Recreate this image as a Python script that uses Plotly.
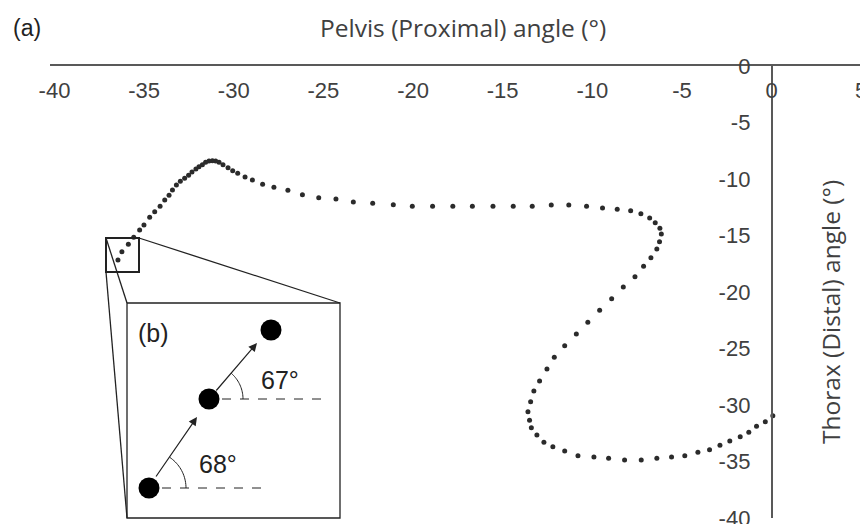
import math
import plotly.graph_objects as go

# ---- data ----
pelvis = [0.07, -0.35, -0.84, -1.27, -1.75, -2.33, -2.88, -3.46, -4.11, -4.84,
          -5.58, -6.40, -7.27, -8.20, -9.09, -9.91, -10.80, -11.54, -12.20, -12.70,
          -13.09, -13.40, -13.50, -13.59, -13.44, -13.26, -12.94, -12.53, -12.12, -11.54,
          -10.89, -10.25, -9.59, -8.92, -8.27, -7.62, -7.14, -6.73, -6.40, -6.25,
          -6.15, -6.23, -6.49, -6.80, -7.29, -7.86, -8.61, -9.43, -10.32, -11.31,
          -12.29, -13.35, -14.41, -15.54, -16.69, -17.78, -18.91, -20.04, -21.10, -22.25,
          -23.33, -24.30, -25.26, -26.17, -26.98, -27.76, -28.39, -28.96, -29.37, -29.78,
          -30.06, -30.32, -30.60, -30.82, -31.01, -31.19, -31.38, -31.57, -31.75, -31.94,
          -32.11, -32.33, -32.52, -32.74, -32.98, -33.20, -33.42, -33.61, -33.85, -34.11,
          -34.41, -34.69, -35.01, -35.25, -35.58, -35.88, -36.24, -36.46]
thorax = [-30.95, -31.48, -31.88, -32.42, -32.81, -33.19, -33.57, -33.96, -34.19, -34.49,
          -34.60, -34.72, -34.87, -34.87, -34.72, -34.60, -34.49, -34.07, -33.69, -33.30,
          -32.65, -32.01, -31.35, -30.59, -29.71, -28.76, -27.88, -26.81, -25.78, -24.75,
          -23.72, -22.68, -21.62, -20.59, -19.56, -18.65, -17.73, -16.96, -16.19, -15.55,
          -14.87, -14.36, -13.87, -13.45, -13.07, -12.81, -12.68, -12.57, -12.42, -12.30,
          -12.30, -12.42, -12.42, -12.42, -12.42, -12.42, -12.42, -12.42, -12.27, -12.15,
          -12.04, -11.77, -11.65, -11.39, -11.00, -10.73, -10.47, -10.09, -9.82, -9.50,
          -9.27, -9.00, -8.73, -8.52, -8.41, -8.38, -8.41, -8.52, -8.73, -8.91,
          -9.12, -9.38, -9.67, -9.94, -10.20, -10.53, -10.97, -11.44, -11.86, -12.42,
          -12.89, -13.39, -14.07, -14.51, -15.16, -15.78, -16.43, -17.17]

x_ticks = [-40, -35, -30, -25, -20, -15, -10, -5, 0, 5]
y_ticks = [0, -5, -10, -15, -20, -25, -30, -35, -40]
inset_angles = ["68°", "67°"]

O = 8  # page body margin offset
W, H = 860, 516
ML, MR, MT, MB = 42, 5, 58, 6
PW, PH = W - ML - MR, H - MT - MB
XR = [-40.25, 5.1]


def fx(px):
    return (px - O - ML) / PW


def fy(py):
    return (H - MB - (py - O)) / PH


fig = go.Figure()
fig.add_trace(go.Scatter(x=pelvis, y=thorax, mode="markers",
                         marker=dict(size=5, color="#2b2b2b"),
                         showlegend=False, hoverinfo="x+y", cliponaxis=False))

shapes = []
ink = "#222222"
# zoom rectangle and connector lines
shapes.append(dict(type="rect", xref="paper", yref="paper", x0=fx(106), x1=fx(139),
                   y0=fy(272), y1=fy(238), line=dict(color=ink, width=2)))
shapes.append(dict(type="rect", xref="paper", yref="paper", x0=fx(127), x1=fx(340),
                   y0=fy(518), y1=fy(303), line=dict(color=ink, width=1.3),
                   fillcolor="white"))
for (a, b, c, d) in [(106, 238, 127, 303), (106, 272, 127, 518), (139, 238, 340, 303)]:
    shapes.append(dict(type="line", xref="paper", yref="paper", x0=fx(a), y0=fy(b),
                       x1=fx(c), y1=fy(d), line=dict(color=ink, width=1.3)))
# dashed horizontals
for (a, b, c) in [(162, 488, 262), (222, 399, 325)]:
    shapes.append(dict(type="line", xref="paper", yref="paper", x0=fx(a), y0=fy(b),
                       x1=fx(c), y1=fy(b), line=dict(color=ink, width=1, dash="dash")))
# circles
for (cx, cy) in [(149, 488), (209, 399), (271, 330)]:
    r = 10.5
    shapes.append(dict(type="circle", xref="paper", yref="paper", x0=fx(cx - r), x1=fx(cx + r),
                       y0=fy(cy + r), y1=fy(cy - r), fillcolor="black",
                       line=dict(color="black", width=0)))
# angle arcs
for (cx, cy, r, ang) in [(149, 488, 37, 56), (209, 399, 34, 49)]:
    pts = []
    for k in range(0, 21):
        t = math.radians(ang * k / 20)
        pts.append((fx(cx + r * math.cos(t)), fy(cy - r * math.sin(t))))
    path = "M " + " L ".join(f"{p[0]},{p[1]}" for p in pts)
    shapes.append(dict(type="path", xref="paper", yref="paper", path=path,
                       line=dict(color=ink, width=1)))

annotations = []
for (tx, ty, hx, hy) in [(155, 478, 197, 417), (215, 392, 257, 343)]:
    annotations.append(dict(xref="paper", yref="paper", x=fx(hx), y=fy(hy), ax=tx - hx, ay=ty - hy,
                            axref="pixel", ayref="pixel", text="", showarrow=True,
                            arrowhead=2, arrowsize=1.4, arrowwidth=1.2, arrowcolor=ink,
                            standoff=0, startstandoff=0))


def label(px, py, text, font, angle=0):
    annotations.append(dict(xref="paper", yref="paper", x=fx(px), y=fy(py), text=text,
                            textangle=angle, showarrow=False, xanchor="center",
                            yanchor="middle", font=font))


tf = dict(family="Liberation Sans, Arial, sans-serif", color="#222222")
label(153, 333, "(b)", dict(size=25, **tf))
label(218, 464, inset_angles[0], dict(size=25, **tf))
label(280, 380, inset_angles[1], dict(size=25, **tf))
label(27, 28, "(a)", dict(size=23, **tf))
title_font = dict(family="Open Sans, Lato, sans-serif", size=24.5, color="#404040")
label(463, 28, "Pelvis (Proximal) angle (°)", title_font)
label(830, 312, "Thorax (Distal) angle (°)", title_font, angle=-90)

tick_font = dict(family="Liberation Sans, Arial, sans-serif", size=22, color="#404040")
fig.update_layout(
    width=W, height=H, margin=dict(l=ML, r=MR, t=MT, b=MB, autoexpand=False),
    paper_bgcolor="white", plot_bgcolor="white",
    shapes=shapes, annotations=annotations,
    xaxis=dict(range=XR, side="top", showline=True, linecolor="#595959", linewidth=1.5,
               ticks="", tickvals=x_ticks, ticktext=[str(v) for v in x_ticks],
               ticklabelposition="inside", ticklabeloverflow="allow", ticklabelstandoff=18,
               showgrid=False, zeroline=False, tickfont=tick_font, automargin=False),
    yaxis=dict(range=[-40, 0], anchor="free", position=(0 - XR[0]) / (XR[1] - XR[0]),
               showline=True, linecolor="#595959", linewidth=1.5, ticks="",
               tickvals=y_ticks, ticktext=[str(v) for v in y_ticks], ticklabelstandoff=16,
               ticklabeloverflow="allow",
               showgrid=False, zeroline=False, tickfont=tick_font, automargin=False),
)
fig.write_html("out.html")
